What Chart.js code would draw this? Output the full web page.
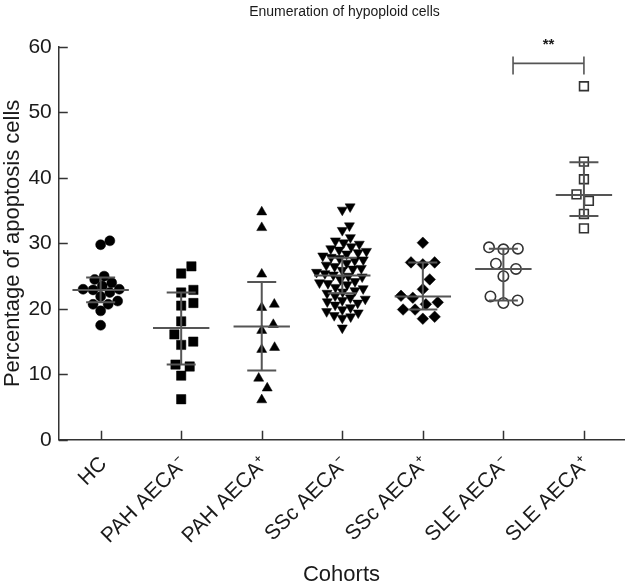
<!DOCTYPE html>
<html>
<head>
<meta charset="utf-8">
<script src="https://cdn.jsdelivr.net/npm/chart.js@4.4.1/dist/chart.umd.min.js"></script>
<style>
  html, body { margin: 0; padding: 0; background: #fff; }
  canvas { display: block; }
</style>
</head>
<body>
<canvas id="chart" width="632" height="584"></canvas>
<script>
const cohorts = ['HC', 'PAH AECA\u207B', 'PAH AECA\u207A', 'SSc AECA\u207B', 'SSc AECA\u207A', 'SLE AECA\u207B', 'SLE AECA\u207A'];

// percentage of apoptosis cells, one array per cohort
const hcValues = [30.4, 29.8, 25.0, 24.5, 24.0, 23.5, 23.0, 23.0, 22.9, 22.5, 21.9, 21.2, 20.7, 20.7, 19.7, 17.5];
const pahNegValues = [26.5, 25.4, 22.9, 22.5, 20.9, 20.5, 18.1, 16.1, 15.0, 14.5, 11.5, 11.2, 9.8, 6.2];
const pahPosValues = [34.8, 32.4, 25.3, 20.7, 20.2, 17.6, 16.7, 14.1, 13.8, 9.4, 7.9, 6.1];
const sscNegValues = [35.6, 35.1, 32.7, 32.0, 30.9, 30.4, 30.1, 29.9, 29.5, 29.2, 29.0, 28.8, 28.6, 28.4, 28.1,
  27.9, 27.7, 27.5, 27.4, 27.0, 26.7, 26.5, 26.2, 26.1, 25.9, 25.6, 25.4, 25.2, 25.0, 24.9, 24.5, 24.2, 24.0,
  23.9, 23.7, 23.3, 23.1, 22.8, 22.6, 22.4, 22.0, 21.7, 21.5, 21.3, 21.1, 20.9, 20.6, 20.2, 19.9, 19.6, 19.4,
  19.0, 18.8, 18.6, 17.1];
const sscPosValues = [30.1, 27.1, 27.1, 26.8, 24.5, 23.0, 22.0, 21.7, 21.0, 20.7, 19.9, 19.9, 18.8, 18.5];
const sleNegValues = [29.4, 29.2, 29.1, 26.9, 26.1, 25.0, 21.9, 21.3, 20.9];
const slePosValues = [54.0, 42.5, 39.8, 37.5, 36.5, 34.5, 32.3];

// median and interquartile bars
const medians = [22.9, 17.1, 17.3, 25.1, 21.9, 26.1, 37.4];
const upperBars = [24.8, 22.5, 24.1, 27.8, 27.1, 29.2, 42.4];
const lowerBars = [21.0, 11.5, 10.6, 22.4, 19.9, 21.3, 34.2];

// significance bracket between SLE groups
const sigFrom = 5.12;
const sigTo = 6;
const sigLevel = 57.5;
const sigLabel = '**';

const FONT = '"Liberation Sans", Arial, Helvetica, sans-serif';
Chart.defaults.font.family = FONT;
Chart.defaults.color = '#1a1a1a';

const groups = [
  { values: hcValues, pointStyle: 'circle', radius: 5, rotation: 0, open: false, gap: 10 },
  { values: pahNegValues, pointStyle: 'rect', radius: 6.6, rotation: 0, open: false, gap: 12.5 },
  { values: pahPosValues, pointStyle: 'triangle', radius: 5.8, rotation: 0, open: false, gap: 13 },
  { values: sscNegValues, pointStyle: 'triangle', radius: 5.8, rotation: 180, open: false, gap: 8.5 },
  { values: sscPosValues, pointStyle: 'rectRot', radius: 5.8, rotation: 0, open: false, gap: 12 },
  { values: sleNegValues, pointStyle: 'circle', radius: 5.2, rotation: 0, open: true, gap: 14.5 },
  { values: slePosValues, pointStyle: 'rect', radius: 6.2, rotation: 0, open: true, gap: 14 }
];

function segs(list) {
  const pts = [];
  list.forEach((s, i) => {
    if (i) pts.push({ x: s[0][0], y: null });
    pts.push({ x: s[0][0], y: s[0][1] }, { x: s[1][0], y: s[1][1] });
  });
  return pts;
}

const medianSegs = medians.map((m, i) => [[i - 0.35, m], [i + 0.35, m]]);
const barSegs = [];
medians.forEach((m, i) => {
  barSegs.push([[i, lowerBars[i]], [i, upperBars[i]]]);
  barSegs.push([[i - 0.18, upperBars[i]], [i + 0.18, upperBars[i]]]);
  barSegs.push([[i - 0.18, lowerBars[i]], [i + 0.18, lowerBars[i]]]);
});
const sigSegs = [
  [[sigFrom, sigLevel + 1.05], [sigFrom, sigLevel - 1.7]],
  [[sigFrom, sigLevel], [sigTo, sigLevel]],
  [[sigTo, sigLevel + 1.05], [sigTo, sigLevel - 1.7]]
];

function lineSet(list, width) {
  return {
    type: 'scatter', showLine: true, spanGaps: false, data: segs(list),
    borderColor: '#555', borderWidth: width, pointRadius: 0, fill: false, clip: false
  };
}

const datasets = [
  lineSet(medianSegs, 2),
  lineSet(barSegs, 2),
  lineSet(sigSegs, 1.6)
];
groups.forEach((g, gi) => {
  datasets.push({
    type: 'scatter',
    data: g.values.map(v => ({ x: gi, y: v })),
    pointStyle: g.pointStyle,
    pointRadius: g.radius,
    rotation: g.rotation,
    backgroundColor: g.open ? '#fff' : '#000',
    borderColor: g.open ? '#333' : '#000',
    borderWidth: g.open ? 1.6 : 0.5
  });
});

// title, significance stars and inward tick marks
const extrasPlugin = {
  id: 'extras',
  afterDraw(chart) {
    const { ctx, chartArea, scales } = chart;
    const x = scales.x, y = scales.y;
    ctx.save();
    ctx.strokeStyle = '#333';
    ctx.lineWidth = 1.5;
    ctx.beginPath();
    y.ticks.forEach(t => {
      const py = Math.round(y.getPixelForValue(t.value)) + 0.5;
      ctx.moveTo(chartArea.left, py);
      ctx.lineTo(chartArea.left + 9, py);
    });
    x.ticks.forEach(t => {
      const px = Math.round(x.getPixelForValue(t.value)) + 0.5;
      ctx.moveTo(px, chartArea.bottom);
      ctx.lineTo(px, chartArea.bottom - 9);
    });
    ctx.stroke();

    ctx.fillStyle = '#1a1a1a';
    ctx.textAlign = 'center';
    ctx.textBaseline = 'middle';
    ctx.font = '14px ' + FONT;
    ctx.fillText('Enumeration of hypoploid cells', (chartArea.left + chartArea.right) / 2 + 3, 12);
    ctx.font = 'bold 15px ' + FONT;
    ctx.fillText(sigLabel, x.getPixelForValue((sigFrom + sigTo) / 2), y.getPixelForValue(sigLevel) - 19);
    ctx.restore();
  }
};

const chart = new Chart(document.getElementById('chart'), {
  type: 'scatter',
  data: { datasets },
  plugins: [extrasPlugin],
  options: {
    responsive: false,
    animation: false,
    events: [],
    layout: { padding: { left: 0, right: 2, top: 47, bottom: 0 } },
    plugins: { legend: { display: false }, tooltip: { enabled: false } },
    scales: {
      x: {
        type: 'linear',
        min: -0.52,
        max: 6.5,
        afterBuildTicks: axis => { axis.ticks = cohorts.map((c, i) => ({ value: i })); },
        ticks: {
          callback: v => cohorts[v],
          maxRotation: 45, minRotation: 45,
          autoSkip: false,
          font: { size: 21 },
          padding: 12,
          labelOffset: 3
        },
        grid: { drawOnChartArea: false, drawTicks: false },
        border: { color: '#333', width: 1.5 },
        title: { display: true, text: 'Cohorts', font: { size: 22 }, padding: { top: 1, bottom: -4 } }
      },
      y: {
        min: 0,
        max: 60,
        ticks: { stepSize: 10, font: { size: 21 }, padding: 7 },
        grid: { drawOnChartArea: false, drawTicks: false },
        border: { color: '#333', width: 1.5 },
        title: { display: true, text: 'Percentage of apoptosis cells', font: { size: 22 }, padding: { top: 0, bottom: -5 } }
      }
    }
  }
});

// spread the dots of each cohort sideways so they do not pile up
function swarm(values, d, toPx) {
  const order = values.map((v, i) => i).sort((a, b) => values[a] - values[b]);
  const placed = [];
  const offs = new Array(values.length).fill(0);
  order.forEach(i => {
    const y = toPx(values[i]);
    const cands = [0];
    placed.forEach(p => {
      const dy = Math.abs(p.y - y);
      if (dy < d) {
        const dx = Math.sqrt(d * d - dy * dy);
        cands.push(p.x + dx, p.x - dx);
      }
    });
    cands.sort((a, b) => Math.abs(a) - Math.abs(b));
    const x = cands.find(c => placed.every(p => (p.x - c) ** 2 + (p.y - y) ** 2 >= d * d - 0.01));
    placed.push({ x, y });
    offs[i] = x;
  });
  return offs;
}

const xs = chart.scales.x, ys = chart.scales.y;
const pxPerX = xs.getPixelForValue(1) - xs.getPixelForValue(0);
groups.forEach((g, gi) => {
  const offs = swarm(g.values, g.gap, v => ys.getPixelForValue(v));
  chart.data.datasets[3 + gi].data = g.values.map((v, i) => ({ x: gi + offs[i] / pxPerX, y: v }));
});
chart.update();
</script>
</body>
</html>
